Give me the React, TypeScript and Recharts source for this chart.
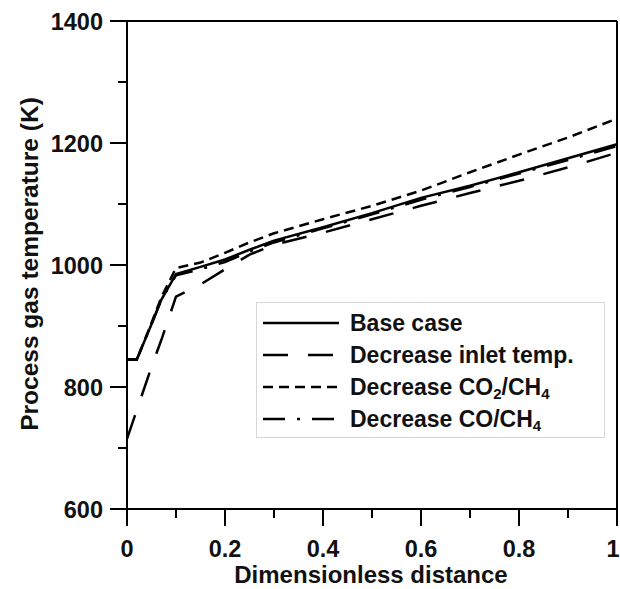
import { LineChart, Line, XAxis, YAxis, ReferenceLine, Label } from 'recharts';

const distance = [0, 0.02, 0.05, 0.07, 0.1, 0.15, 0.2, 0.25, 0.3, 0.4, 0.5, 0.6, 0.7, 0.8, 0.9, 1];
const baseCase = [845, 845, 903, 943, 985, 997, 1009, 1025, 1040, 1062, 1085, 1110, 1130, 1152, 1175, 1198];
const inletTemp = [715, 762, 833, 877, 948, 968, 993, 1017, 1033, 1053, 1075, 1097, 1118, 1138, 1160, 1184];
const co2Ch4 = [845, 845, 905, 947, 995, 1004, 1020, 1037, 1052, 1075, 1097, 1122, 1152, 1181, 1209, 1240];
const coCh4 = [845, 845, 903, 943, 983, 993, 1005, 1022, 1037, 1060, 1083, 1107, 1128, 1150, 1172, 1195];

const xTicks = [0, 0.1, 0.2, 0.3, 0.4, 0.5, 0.6, 0.7, 0.8, 0.9, 1];
const xLabelled = [0, 0.2, 0.4, 0.6, 0.8, 1];
const yTicks = [600, 700, 800, 900, 1000, 1100, 1200, 1300, 1400];
const yLabelled = [600, 800, 1000, 1200, 1400];

const data = distance.map((x, i) => ({
  x,
  base: baseCase[i],
  inlet: inletTemp[i],
  co2: co2Ch4[i],
  co: coCh4[i],
}));

const FONT = '"Liberation Sans", Arial, sans-serif';

const series = [
  { key: 'base', name: 'Base case', dash: undefined },
  { key: 'inlet', name: 'Decrease inlet temp.', dash: '25 20' },
  { key: 'co2', name: 'Decrease CO2/CH4', dash: '10 6' },
  { key: 'co', name: 'Decrease CO/CH4', dash: '22 12 3 12' },
];

const XTick = (props: any) => {
  const { x, y, payload } = props;
  const v = payload.value;
  const major = xLabelled.includes(v);
  // the last label sits on the page edge, keep it inside
  const lx = v === 1 ? x - 4 : x;
  return (
    <g>
      <line x1={x} y1={v === 0 ? y - 8 : y} x2={x} y2={y + (major ? 17 : 9)} stroke="#000" strokeWidth={2} />
      {major && (
        <text x={lx} y={y + 48} textAnchor="middle" fontFamily={FONT} fontWeight="bold" fontSize={23.5} fill="#111">
          {String(v)}
        </text>
      )}
    </g>
  );
};

const YTick = (props: any) => {
  const { x, y, payload } = props;
  const v = payload.value;
  const major = yLabelled.includes(v);
  return (
    <g>
      <line x1={x - (major ? 17 : 9)} y1={y} x2={x} y2={y} stroke="#000" strokeWidth={2} />
      {major && (
        <text x={x - 24} y={y + 8.5} textAnchor="end" fontFamily={FONT} fontWeight="bold" fontSize={23.5} fill="#111">
          {v}
        </text>
      )}
    </g>
  );
};

const sub = (t: string) => <sub style={{ fontSize: 15, verticalAlign: '-0.25em', lineHeight: 0 }}>{t}</sub>;

const legendLabel = (name: string) => {
  if (name === 'Decrease CO2/CH4')
    return (
      <>
        Decrease CO{sub('2')}/CH{sub('4')}
      </>
    );
  if (name === 'Decrease CO/CH4')
    return (
      <>
        Decrease CO/CH{sub('4')}
      </>
    );
  return name;
};

export default function App() {
  return (
    <div style={{ position: 'absolute', left: 0, top: 0, width: 620, height: 589, background: '#fff' }}>
      <LineChart width={620} height={589} data={data} margin={{ top: 21, right: 3, bottom: 0, left: 0 }}>
        <XAxis
          type="number"
          dataKey="x"
          domain={[0, 1]}
          ticks={xTicks}
          interval={0}
          height={80}
          tickSize={0}
          tickMargin={0}
          tickLine={false}
          tick={<XTick />}
          axisLine={{ stroke: '#000', strokeWidth: 2 }}
        >
          <Label
            content={() => (
              <text x={371} y={583} textAnchor="middle" fontFamily={FONT} fontWeight="bold" fontSize={24} fill="#111">
                Dimensionless distance
              </text>
            )}
          />
        </XAxis>
        <YAxis
          type="number"
          domain={[600, 1400]}
          ticks={yTicks}
          interval={0}
          width={127}
          tickSize={0}
          tickMargin={0}
          tickLine={false}
          tick={<YTick />}
          axisLine={{ stroke: '#000', strokeWidth: 2 }}
        >
          <Label
            content={() => (
              <text
                x={38}
                y={264}
                transform="rotate(-90 38 264)"
                textAnchor="middle"
                fontFamily={FONT}
                fontWeight="bold"
                fontSize={24.5}
                fill="#111"
              >
                Process gas temperature (K)
              </text>
            )}
          />
        </YAxis>
        <ReferenceLine y={1400} stroke="#000" strokeWidth={2} />
        <ReferenceLine x={1} stroke="#000" strokeWidth={2} />
        {series.map((s) => (
          <Line
            key={s.key}
            type="linear"
            dataKey={s.key}
            name={s.name}
            stroke="#000"
            strokeWidth={2.5}
            strokeDasharray={s.dash}
            dot={false}
            isAnimationActive={false}
          />
        ))}
      </LineChart>
      <div
        style={{
          position: 'absolute',
          left: 256,
          top: 302,
          width: 347,
          height: 134,
          border: '1px solid #d8d8d8',
          background: '#fff',
          fontFamily: FONT,
          fontWeight: 'bold',
          fontSize: 23,
          color: '#111',
        }}
      >
        {series.map((s, i) => (
          <div
            key={s.key}
            style={{ position: 'absolute', left: 0, top: 5 + i * 32, height: 30, display: 'flex', alignItems: 'center', whiteSpace: 'nowrap' }}
          >
            <svg width={90} height={30} style={{ display: 'block' }}>
              <line x1={6} y1={15} x2={82} y2={15} stroke="#000" strokeWidth={2.5} strokeDasharray={s.dash} />
            </svg>
            <span style={{ marginLeft: 3, lineHeight: '30px' }}>{legendLabel(s.name)}</span>
          </div>
        ))}
      </div>
    </div>
  );
}
